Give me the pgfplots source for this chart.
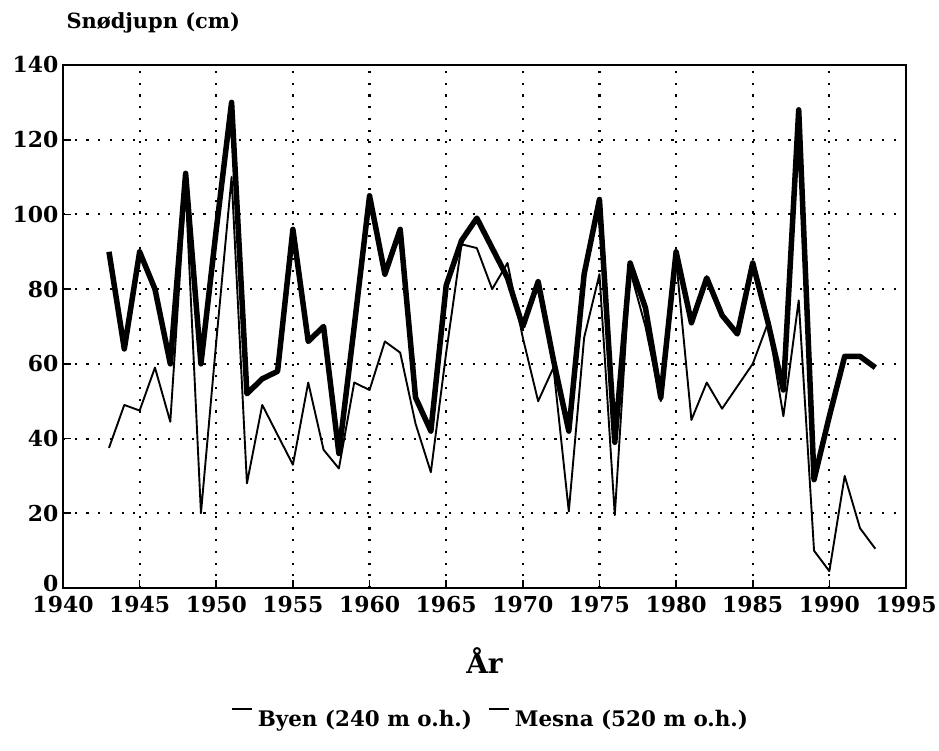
\documentclass[border=0pt]{standalone}
\usepackage{fontspec}
\setmainfont{DejaVu Serif}
\usepackage{pgfplots}
\pgfplotsset{compat=1.18}
\usepackage{pgfplotstable}

\pgfplotstableread{
year byen mesna
1943 37.5 90
1944 49 64
1945 47.5 90
1946 59 80
1947 44.5 60
1948 107 111
1949 20 60
1950 66 96
1951 110 130
1952 28 52
1953 49 56
1954 41 58
1955 33 96
1956 55 66
1957 37 70
1958 32 36
1959 55 70
1960 53 105
1961 66 84
1962 63 96
1963 44 51
1964 31 42
1965 63 81
1966 92 93
1967 91 99
1968 80 91
1969 87 83
1970 67 70
1971 50 82
1972 59 61
1973 20.5 42
1974 67 84
1975 84 104
1976 19.5 39
1977 85 87
1978 70 75
1979 50 51
1980 88 90
1981 45 71
1982 55 83
1983 48 73
1984 54 68
1985 60 87
1986 71 71
1987 46 53
1988 77 128
1989 10 29
1990 4.5 46
1991 30 62
1992 16 62
1993 10.5 59
}\snow

\begin{document}
\begin{tikzpicture}
\begin{axis}[
  scale only axis,
  width=843bp, height=523bp,
  xmin=1940, xmax=1995, ymin=0, ymax=140,
  xtick={1940,1945,...,1995},
  ytick={0,20,...,140},
  yticklabels={{\raisebox{9bp}{0}},20,40,60,80,100,120,140},
  grid=major,
  major grid style={black, line width=2.1bp, dash pattern=on 2.1bp off 9.6bp},
  axis line style={black, line width=1.9bp},
  tick style={black, line width=1.6bp},
  tick align=inside,
  major tick length=8bp,
  xtick pos=bottom, ytick pos=left,
  /pgf/number format/assume math mode=true,
  xticklabel style={/pgf/number format/1000 sep={}, yshift=-5bp},
  yticklabel style={xshift=-1bp},
  every tick label/.append style={font=\bfseries\fontsize{22}{26}\selectfont},
  title={Snødjupn (cm)},
  title style={at={(axis description cs:0,1)}, anchor=west, yshift=36bp, font=\bfseries\fontsize{21}{25}\selectfont},
  xlabel={År},
  xlabel style={at={(axis description cs:0.5,0)}, anchor=center, yshift=-73bp, font=\bfseries\fontsize{28}{32}\selectfont},
  legend columns=2,
  legend style={at={(axis description cs:0.5,0)}, anchor=center, yshift=-131bp, xshift=6bp, draw=none, fill=none,
    font=\bfseries\fontsize{21.5}{25}\selectfont,
    /tikz/every even column/.append style={column sep=14bp}},
  legend cell align=left,
]
\addplot[black, line width=1.9bp, line join=round, forget plot] table[x=year, y=byen] {\snow};
\addplot[black, line width=5.5bp, line join=round, forget plot] table[x=year, y=mesna] {\snow};
\addlegendimage{legend image code/.code={\draw[black, line width=1.3bp] (0bp,10bp) -- (20bp,10bp); \path (24bp,0bp);}}
\addlegendentry{Byen (240 m o.h.)}
\addlegendimage{legend image code/.code={\draw[black, line width=1.3bp] (0bp,10bp) -- (20bp,10bp); \path (24bp,0bp);}}
\addlegendentry{Mesna (520 m o.h.)}
\end{axis}
\pgfresetboundingbox
\path ([xshift=-63bp, yshift=-163bp]current axis.south west) rectangle ([xshift=876bp, yshift=588bp]current axis.south west);
\end{tikzpicture}
\end{document}
